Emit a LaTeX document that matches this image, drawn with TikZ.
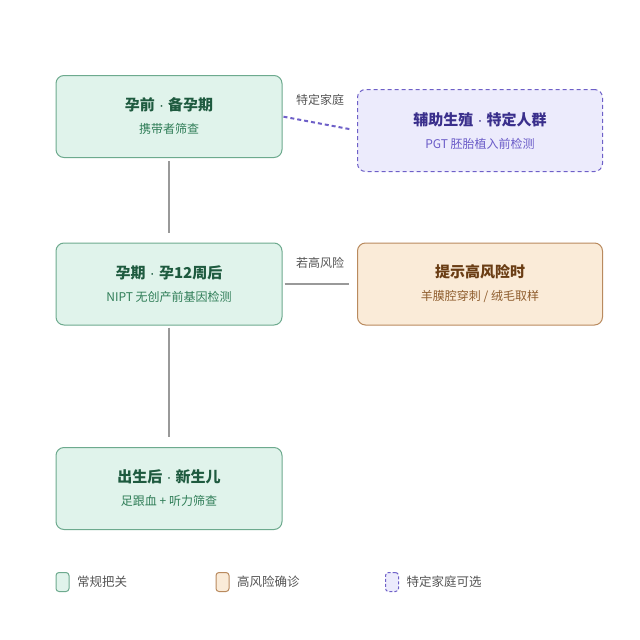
\documentclass[tikz,border=0pt]{standalone}
\usepackage{fontspec}
\setmainfont{Noto Sans CJK SC}
\newfontfamily\latinfont{Liberation Sans}
\usetikzlibrary{positioning}
\definecolor{gfill}{HTML}{E0F3EB}
\definecolor{gdraw}{HTML}{6DAA8E}
\definecolor{gtitle}{HTML}{1E5A3F}
\definecolor{gsub}{HTML}{2F7D57}
\definecolor{pfill}{HTML}{ECEBFC}
\definecolor{pdraw}{HTML}{6E60C8}
\definecolor{ptitle}{HTML}{3A2F8C}
\definecolor{psub}{HTML}{6A5BC8}
\definecolor{ofill}{HTML}{FAEBD8}
\definecolor{odraw}{HTML}{B98A5E}
\definecolor{otitle}{HTML}{6A3D14}
\definecolor{osub}{HTML}{8E5C2C}
\definecolor{lgray}{HTML}{999999}
\definecolor{tgray}{HTML}{555555}
\tikzset{
  stagebox/.style={rounded corners=8pt, line width=1pt, minimum width=226pt, minimum height=82pt, align=center, inner sep=0pt},
  greenbox/.style={stagebox, fill=gfill, draw=gdraw},
  purplebox/.style={stagebox, fill=pfill, draw=pdraw, dashed, dash pattern=on 4pt off 3pt, minimum width=245pt},
  orangebox/.style={stagebox, fill=ofill, draw=odraw, minimum width=245pt},
  conn/.style={draw=lgray, line width=2pt},
  dconn/.style={draw=pdraw, line width=2pt, dash pattern=on 4pt off 3pt},
  elabel/.style={text=tgray, font=\fontsize{12}{14}\selectfont},
  legbox/.style={rounded corners=3pt, line width=1pt, minimum width=13pt, minimum height=19pt, inner sep=0pt},
  legtext/.style={text=tgray, font=\fontsize{12.5}{14}\selectfont, anchor=west, inner sep=0pt},
}
\newcommand{\ttl}[2]{{\color{#1}\fontsize{15}{17}\selectfont\bfseries #2}}
\newcommand{\sbt}[2]{{\color{#1}\fontsize{12}{14}\selectfont #2}}
\newcommand{\mdot}{{\latinfont\mdseries\ ·\ }}
\begin{document}
\begin{tikzpicture}[x=1pt,y=-1pt]
\useasboundingbox[fill=white] (0,0) rectangle (640,640);

\node[greenbox] (A) at (169,116.5) {\ttl{gtitle}{孕前\mdot 备孕期}\\[11pt]\sbt{gsub}{携带者筛查}};
\node[purplebox] (P) at (480,130.5) {\ttl{ptitle}{辅助生殖\mdot 特定人群}\\[11pt]\sbt{psub}{PGT 胚胎植入前检测}};
\node[greenbox] (B) at (169,284) {\ttl{gtitle}{孕期\mdot 孕12周后}\\[11pt]\sbt{gsub}{NIPT 无创产前基因检测}};
\node[orangebox] (H) at (480,284) {\ttl{otitle}{提示高风险时}\\[11pt]\sbt{osub}{羊膜腔穿刺 / 绒毛取样}};
\node[greenbox] (C) at (169,488.5) {\ttl{gtitle}{出生后\mdot 新生儿}\\[11pt]\sbt{gsub}{足跟血 + 听力筛查}};

\draw[conn, shorten <=3pt, shorten >=10pt] (A.south) -- (B.north);
\draw[conn, shorten <=2pt, shorten >=10pt] (B.south) -- (C.north);
\draw[dconn, shorten <=1pt, shorten >=7pt] (A.east) -- (P.west);
\draw[conn, shorten <=2pt, shorten >=8pt] (B.east) -- (H.west);

\node[elabel] (l1) at (320,100) {特定家庭};
\node[elabel] (l2) at (320,263) {若高风险};

\node[legbox, fill=gfill, draw=gdraw] (k1) at (62.5,582) {};
\node[legtext] (t1) at (77,582) {常规把关};
\node[legbox, fill=ofill, draw=odraw] (k2) at (222.5,582) {};
\node[legtext] (t2) at (237,582) {高风险确诊};
\node[legbox, fill=pfill, draw=pdraw, dashed, dash pattern=on 3pt off 2pt] (k3) at (392,582) {};
\node[legtext] (t3) at (406.5,582) {特定家庭可选};
\end{tikzpicture}
\end{document}
